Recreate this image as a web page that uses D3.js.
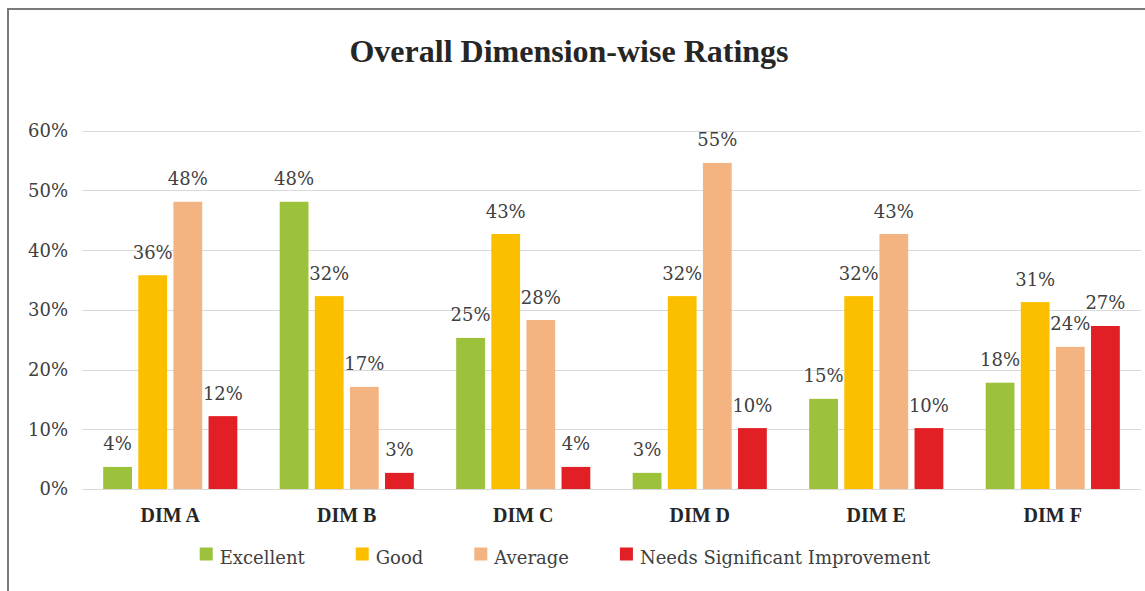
<!DOCTYPE html>
<html lang="en">
<head>
    <meta charset="UTF-8">
    <title>Overall Dimension-wise Ratings</title>
    <style>
        body {
            margin: 0;
            padding: 0;
            background-color: #ffffff;
            overflow: hidden;
        }
        .tick-label, .data-label, .legend-label {
            font-family: 'DejaVu Serif', serif;
            font-size: 18px;
            fill: #404040;
        }
        .cat-label {
            font-family: 'Liberation Serif', serif;
            font-weight: bold;
            font-size: 20px;
            fill: #262626;
        }
        .title {
            font-family: 'Liberation Serif', serif;
            font-weight: bold;
            font-size: 32px;
            fill: #262626;
        }
        .grid line {
            stroke: #d9d9d9;
            stroke-width: 1px;
        }
    </style>
</head>
<body>
    <div class="chart"></div>

    <script src="https://d3js.org/d3.v7.min.js"></script>
    <script>
        const width = 1145;
        const height = 591;

        // data
        const categories = ["DIM A", "DIM B", "DIM C", "DIM D", "DIM E", "DIM F"];
        const seriesNames = ["Excellent", "Good", "Average", "Needs Significant Improvement"];
        const excellent = [0.037, 0.481, 0.253, 0.027, 0.151, 0.178];
        const good      = [0.358, 0.323, 0.427, 0.323, 0.323, 0.313];
        const average   = [0.481, 0.171, 0.283, 0.546, 0.427, 0.238];
        const needs     = [0.122, 0.027, 0.037, 0.102, 0.102, 0.273];
        const yTicks = [0, 0.1, 0.2, 0.3, 0.4, 0.5, 0.6];
        const colors = ["#9cc23c", "#fcbf00", "#f4b482", "#e31f26"];

        const seriesValues = [excellent, good, average, needs];

        const svg = d3.select('.chart')
            .append('svg')
            .attr('width', width)
            .attr('height', height);

        // chart frame (cropped on the right and bottom)
        svg.append('rect')
            .attr('x', 8)
            .attr('y', 9)
            .attr('width', 1200)
            .attr('height', 650)
            .attr('fill', '#ffffff')
            .attr('stroke', '#7a7a7a')
            .attr('stroke-width', 2);

        const plot = { left: 82, right: 1141, top: 130.7, bottom: 489 };

        const x0 = d3.scaleBand()
            .domain(categories)
            .range([plot.left, plot.right])
            .paddingInner(0.24)
            .paddingOuter(0.12);

        const x1 = d3.scaleBand()
            .domain(seriesNames)
            .range([0, x0.bandwidth()])
            .paddingInner(0.18);

        const y = d3.scaleLinear()
            .domain([0, 0.6])
            .range([plot.bottom, plot.top]);

        const pct = d3.format('.0%');

        // gridlines
        svg.append('g')
            .attr('class', 'grid')
            .selectAll('line')
            .data(yTicks)
            .enter().append('line')
            .attr('x1', plot.left)
            .attr('x2', plot.right)
            .attr('y1', d => Math.round(y(d)) + 0.5)
            .attr('y2', d => Math.round(y(d)) + 0.5);

        // y tick labels
        svg.append('g')
            .selectAll('text')
            .data(yTicks)
            .enter().append('text')
            .attr('class', 'tick-label')
            .attr('x', 68)
            .attr('y', d => y(d))
            .attr('dy', '0.36em')
            .attr('text-anchor', 'end')
            .text(d => pct(d));

        // bars
        const rows = categories.map((c, i) => ({
            cat: c,
            values: seriesNames.map((s, j) => ({ series: s, idx: j, value: seriesValues[j][i] }))
        }));

        const groups = svg.append('g')
            .selectAll('g')
            .data(rows)
            .enter().append('g')
            .attr('transform', d => `translate(${x0(d.cat)},0)`);

        groups.selectAll('rect')
            .data(d => d.values)
            .enter().append('rect')
            .attr('x', d => x1(d.series))
            .attr('y', d => y(d.value))
            .attr('width', x1.bandwidth())
            .attr('height', d => y(0) - y(d.value))
            .attr('fill', d => colors[d.idx]);

        groups.selectAll('text')
            .data(d => d.values)
            .enter().append('text')
            .attr('class', 'data-label')
            .attr('x', d => x1(d.series) + x1.bandwidth() / 2)
            .attr('y', d => y(d.value) - 16.5)
            .attr('text-anchor', 'middle')
            .text(d => pct(d.value));

        // category labels
        svg.append('g')
            .selectAll('text')
            .data(categories)
            .enter().append('text')
            .attr('class', 'cat-label')
            .attr('x', d => x0(d) + x0.bandwidth() / 2)
            .attr('y', 522)
            .attr('text-anchor', 'middle')
            .text(d => d);

        // title
        svg.append('text')
            .attr('class', 'title')
            .attr('x', 569)
            .attr('y', 62)
            .attr('text-anchor', 'middle')
            .text('Overall Dimension-wise Ratings');

        // legend
        const swatch = 13;
        const textGap = 7;
        const itemGap = 51;
        const legend = svg.append('g');
        const items = legend.selectAll('g')
            .data(seriesNames)
            .enter().append('g');

        items.append('rect')
            .attr('width', swatch)
            .attr('height', swatch)
            .attr('y', 547.5)
            .attr('fill', (d, i) => colors[i]);

        items.append('text')
            .attr('class', 'legend-label')
            .attr('x', swatch + textGap)
            .attr('y', 564)
            .text(d => d);

        const widths = [];
        items.each(function () {
            widths.push(d3.select(this).select('text').node().getComputedTextLength());
        });
        const total = d3.sum(widths, w => swatch + textGap + w) + itemGap * (widths.length - 1);
        let cursor = 565 - total / 2;
        items.attr('transform', (d, i) => {
            const t = `translate(${cursor},0)`;
            cursor += swatch + textGap + widths[i] + itemGap;
            return t;
        });
    </script>
</body>
</html>
